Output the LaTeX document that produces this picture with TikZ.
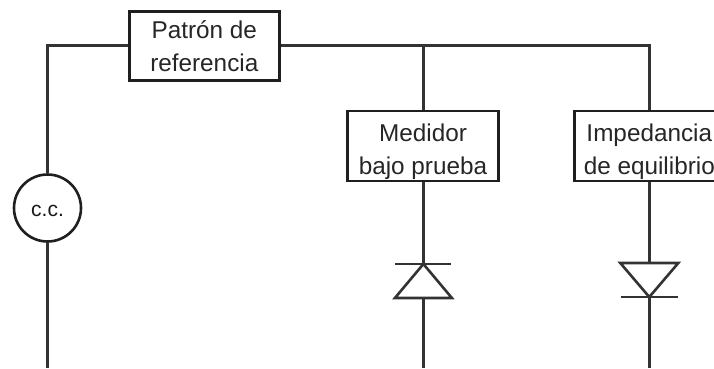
\documentclass[tikz,border=0pt]{standalone}
\usepackage{fontspec}
\setmainfont{Liberation Sans}
\newcommand{\lowerline}{\rule{0pt}{29pt}}
\tikzset{
  wire/.style={line width=2.6pt,color=black!80,line join=miter},
  boxnode/.style={draw=black!88,line width=2.6pt,fill=white,minimum width=150pt,minimum height=69pt,inner sep=0pt,align=center,font=\fontsize{24.3}{33}\selectfont,text=black!85},
  sourcenode/.style={circle,draw=black!88,line width=2.6pt,fill=white,minimum size=67pt,inner sep=0pt,font=\fontsize{21}{24}\selectfont,text=black!90}
}
\begin{document}
\begin{tikzpicture}[x=1pt,y=-1pt]
\useasboundingbox (0,0) rectangle (714,368);
\clip (0,0) rectangle (714,368);
\node[boxnode] (patron) at (204.3,46) {Patrón de\\referencia};
\node[boxnode,minimum width=151pt,minimum height=70pt] (medidor) at (423,146) {\lowerline Medidor\\bajo prueba};
\node[boxnode,minimum height=70pt] (impedancia) at (649.3,146) {\lowerline Impedancia\\de equilibrio};
\node[sourcenode] (cc) at (47.5,208) {\rule{0pt}{17pt}c.c.};
\coordinate (corner) at (47.5,45.7);
\coordinate (junctionA) at (423.4,45.7);
\coordinate (junctionB) at (649.3,45.7);
\coordinate (bottomCC) at (47.5,368);
\coordinate (apexA) at (423.4,264);
\coordinate (baseA) at (423.4,298);
\coordinate (bottomA) at (423.4,368);
\coordinate (topB) at (649.3,263);
\coordinate (apexB) at (649.3,297);
\coordinate (bottomB) at (649.3,368);
% wires
\draw[wire] (cc.north) -- (corner) -- (patron.west |- corner);
\draw[wire] (patron.east |- corner) -- (junctionB) -- (impedancia.north -| junctionB);
\draw[wire] (junctionA) -- (medidor.north -| junctionA);
\draw[wire] (cc.south) -- (bottomCC);
\draw[wire] (medidor.south -| apexA) -- (apexA);
\draw[wire] (baseA) -- (bottomA);
\draw[wire] (impedancia.south -| topB) -- (topB);
\draw[wire] (apexB) -- (bottomB);
% diodes
\draw[wire] ([xshift=-28pt]apexA) -- ([xshift=28pt]apexA);
\draw[wire] (apexA) -- ([xshift=-28.5pt]baseA) -- ([xshift=28.5pt]baseA) -- cycle;
\draw[wire] ([xshift=-29pt]topB) -- ([xshift=29pt]topB) -- (apexB) -- cycle;
\draw[wire] ([xshift=-28.5pt]apexB) -- ([xshift=28.5pt]apexB);
\end{tikzpicture}
\end{document}
